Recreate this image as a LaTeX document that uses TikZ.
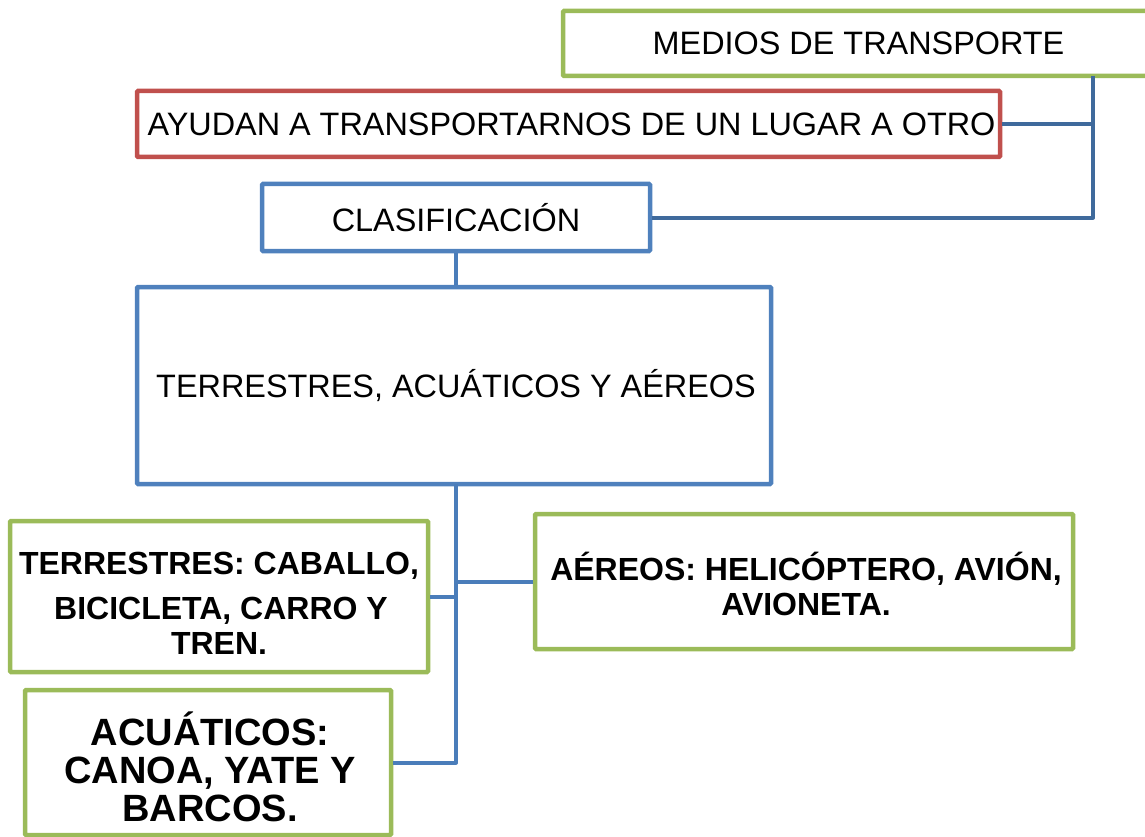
\documentclass[tikz,border=0pt]{standalone}
\usepackage{fontspec}
\setmainfont{Liberation Sans}
\definecolor{boxgreen}{HTML}{9BBB59}
\definecolor{boxred}{HTML}{C0504D}
\definecolor{boxblue}{HTML}{4F81BD}
\definecolor{conndark}{HTML}{3F6A9C}
\definecolor{connblue}{HTML}{4A7DBA}
\begin{document}
\begin{tikzpicture}[x=1pt,y=-1pt,
  box/.style={draw, line width=4.5pt, rectangle, inner sep=0pt, align=center, text=black, rounded corners=1pt},
  gbox/.style={box, draw=boxgreen},
  rbox/.style={box, draw=boxred},
  bbox/.style={box, draw=boxblue},
  txt/.style={inner sep=0pt, align=center, text=black},
  reg/.style={font=\fontsize{32.4}{38}\selectfont},
  bld/.style={font=\bfseries\fontsize{32}{35}\selectfont},
  connA/.style={draw=conndark, line width=4pt, line join=round},
  connB/.style={draw=connblue, line width=4pt, line join=round}]
\useasboundingbox (0,0) rectangle (1145,837);
\node[gbox, reg, minimum width=587pt, minimum height=65pt] (medios) at (856.5,43.5) {\hspace*{4pt}MEDIOS DE TRANSPORTE};
\node[rbox, reg, minimum width=863pt, minimum height=66pt] (ayudan) at (568.5,124) {\hspace*{6pt}AYUDAN A TRANSPORTARNOS DE UN LUGAR A OTRO};
\node[bbox, reg, minimum width=388pt, minimum height=67pt] (clasif) at (456,217.5) {CLASIFICACIÓN};
\node[bbox, reg, minimum width=634pt, minimum height=197pt] (big) at (454,385.5) {\hspace*{4pt}TERRESTRES, ACUÁTICOS Y AÉREOS};
\node[gbox, minimum width=418pt, minimum height=151pt] (terr) at (219,596.5) {};
\node[txt, bld] (terrT) at (219,603) {TERRESTRES: CABALLO,\\[10pt]\hspace*{4pt}BICICLETA, CARRO Y\\TREN.};
\node[gbox, minimum width=538pt, minimum height=135pt] (aereos) at (804,581.5) {};
\node[txt, bld] (aereosT) at (806,584) {AÉREOS: HELICÓPTERO, AVIÓN,\\AVIONETA.};
\node[gbox, minimum width=366pt, minimum height=145pt] (acua) at (208,762.5) {};
\node[txt, font=\bfseries\fontsize{38}{38}\selectfont] (acuaT) at (210,767) {ACUÁTICOS:\\CANOA, YATE Y\\BARCOS.};
\coordinate (vtop) at (1093,76);
\coordinate (spine) at (456,484);
\draw[connA] (vtop) |- (clasif.east);
\draw[connA] (ayudan.east) -- (ayudan.east -| vtop);
\draw[connB] (clasif.south) -- (clasif.south |- big.north);
\draw[connB] (spine) |- (acua.east);
\draw[connB] (terr.east) -- (terr.east -| spine);
\draw[connB] (aereos.west) -- (aereos.west -| spine);
\end{tikzpicture}
\end{document}
